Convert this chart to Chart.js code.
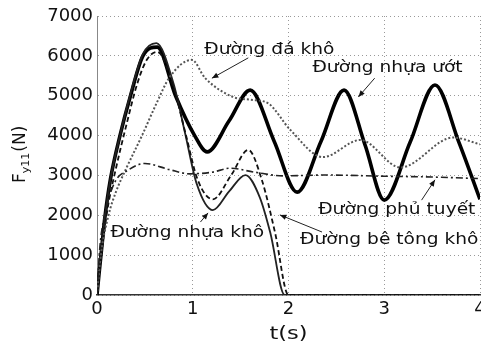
<!DOCTYPE html>
<html>
<head>
<meta charset="utf-8">
<script src="https://cdn.jsdelivr.net/npm/chart.js"></script>
<style>
  html, body { margin: 0; padding: 0; background: #fff; }
  #forceChart { display: block; }
</style>
</head>
<body>
<canvas id="forceChart" width="481" height="343"></canvas>
<script>
// time (s) and force (N)
const tWet = [0, 0.02, 0.05, 0.08, 0.14, 0.24, 0.35, 0.48, 0.63, 0.82, 1.02, 1.15, 1.38, 1.6, 1.85, 2.09, 2.34, 2.58, 2.8, 3.0, 3.27, 3.53, 3.78, 4.0];
const fWet = [0, 500, 1200, 1900, 2900, 4000, 5000, 6000, 6220, 5000, 4000, 3590, 4370, 5140, 3860, 2580, 3860, 5140, 3760, 2380, 3830, 5270, 3830, 2400];

const tDry = [0, 0.02, 0.05, 0.08, 0.14, 0.24, 0.35, 0.48, 0.62, 0.8, 0.92, 1.04, 1.21, 1.38, 1.55, 1.7, 1.81, 1.96, 4.0];
const fDry = [0, 500, 1200, 1900, 2900, 4000, 5050, 6050, 6320, 5300, 4060, 2800, 2130, 2600, 3010, 2450, 1560, 0, 0];

const tConcrete = [0, 0.03, 0.07, 0.12, 0.2, 0.3, 0.42, 0.52, 0.63, 0.8, 0.93, 1.05, 1.21, 1.4, 1.58, 1.72, 1.86, 2.0, 4.0];
const fConcrete = [0, 700, 1500, 2300, 3200, 4200, 5300, 5900, 6100, 5200, 4000, 2900, 2400, 3000, 3640, 2900, 1560, 0, 0];

const tStone = [0, 0.04, 0.12, 0.2, 0.31, 0.47, 0.62, 0.76, 0.99, 1.13, 1.42, 1.6, 1.78, 2.02, 2.36, 2.75, 3.17, 3.72, 4.0];
const fStone = [0, 1000, 2000, 2600, 3200, 4000, 4800, 5470, 5900, 5440, 4970, 4900, 4820, 4140, 3460, 3890, 3200, 3950, 3780];

const tSnow = [0, 0.03, 0.08, 0.18, 0.33, 0.5, 0.75, 0.97, 1.2, 1.39, 1.65, 1.94, 2.4, 3.0, 3.5, 4.0];
const fSnow = [0, 1200, 2000, 2800, 3140, 3300, 3150, 3040, 3080, 3180, 3080, 2990, 3010, 2980, 2960, 2920];

// curve labels: text anchor and arrow (tail -> head), all in data units
const labelText = ['Đường đá khô', 'Đường nhựa ướt', 'Đường phủ tuyết', 'Đường bê tông khô', 'Đường nhựa khô'];
const labelT = [1.12, 2.25, 2.31, 2.12, 0.14];
const labelF = [6150, 5700, 2130, 1380, 1560];
const arrowFrom = [[1.58, 5950], [2.90, 5440], [3.39, 2380], [2.35, 1580], [1.08, 1830]];
const arrowTo = [[1.20, 5440], [2.73, 4970], [3.53, 2890], [1.91, 2010], [1.16, 2060]];

const pts = (t, f) => t.map((v, i) => ({ x: v, y: f[i] }));

const FONT = '"DejaVu Sans", sans-serif';

const annotations = {
  id: 'annotations',
  afterDatasetsDraw(chart) {
    const { ctx, scales: { x, y } } = chart;
    ctx.save();
    ctx.fillStyle = '#111';
    ctx.strokeStyle = '#222';
    ctx.lineWidth = 1;
    ctx.font = '15px ' + FONT;
    ctx.textBaseline = 'middle';
    labelText.forEach((txt, i) => {
      ctx.save();
      ctx.translate(x.getPixelForValue(labelT[i]), y.getPixelForValue(labelF[i]));
      ctx.scale(1.24, 1);
      ctx.fillText(txt, 0, 0);
      ctx.restore();

      const x1 = x.getPixelForValue(arrowFrom[i][0]), y1 = y.getPixelForValue(arrowFrom[i][1]);
      const x2 = x.getPixelForValue(arrowTo[i][0]), y2 = y.getPixelForValue(arrowTo[i][1]);
      ctx.beginPath();
      ctx.moveTo(x1, y1);
      ctx.lineTo(x2, y2);
      ctx.stroke();
      const a = Math.atan2(y2 - y1, x2 - x1);
      ctx.beginPath();
      ctx.moveTo(x2, y2);
      ctx.lineTo(x2 - 7 * Math.cos(a - 0.4), y2 - 7 * Math.sin(a - 0.4));
      ctx.lineTo(x2 - 7 * Math.cos(a + 0.4), y2 - 7 * Math.sin(a + 0.4));
      ctx.closePath();
      ctx.fill();
    });

    // axis titles
    ctx.textBaseline = 'alphabetic';
    ctx.save();
    ctx.translate(25, 183);
    ctx.rotate(-Math.PI / 2);
    ctx.font = '17px ' + FONT;
    ctx.fillText('F', 0, 0);
    let w = ctx.measureText('F').width;
    ctx.font = '11px ' + FONT;
    ctx.fillText('y11', w, 4);
    w += ctx.measureText('y11').width + 1;
    ctx.font = '17px ' + FONT;
    ctx.fillText('(N)', w, 0);
    ctx.restore();

    ctx.save();
    ctx.font = '18px ' + FONT;
    ctx.textAlign = 'center';
    ctx.translate(x.getPixelForValue(2), 339);
    ctx.scale(1.25, 1);
    ctx.fillText('t(s)', 0, 0);
    ctx.restore();
    ctx.restore();
  }
};

new Chart(document.getElementById('forceChart'), {
  type: 'line',
  data: {
    datasets: [
      { label: 'Đường phủ tuyết', data: pts(tSnow, fSnow), borderColor: '#222', borderWidth: 1.6, borderDash: [7, 3, 2, 3] },
      { label: 'Đường đá khô', data: pts(tStone, fStone), borderColor: '#555', borderWidth: 2, borderDash: [2, 2] },
      { label: 'Đường bê tông khô', data: pts(tConcrete, fConcrete), borderColor: '#111', borderWidth: 1.8, borderDash: [5, 3] },
      { label: 'Đường nhựa khô', data: pts(tDry, fDry), borderColor: '#222', borderWidth: 1.8 },
      { label: 'Đường nhựa ướt', data: pts(tWet, fWet), borderColor: '#000', borderWidth: 3.6 }
    ]
  },
  options: {
    responsive: false,
    animation: false,
    devicePixelRatio: 1,
    elements: { point: { radius: 0 }, line: { cubicInterpolationMode: 'monotone' } },
    layout: { padding: { top: 16, right: 1, left: 0, bottom: 0 } },
    plugins: { legend: { display: false }, tooltip: { enabled: false } },
    scales: {
      x: {
        type: 'linear', min: 0, max: 4,
        ticks: { stepSize: 1, color: '#111', font: { family: FONT, size: 18 }, padding: 4, maxRotation: 0, callback: v => String(v) },
        grid: { display: true, color: '#999', lineWidth: 1, drawTicks: false },
        border: { display: true, color: '#333', width: 1.5, dash: [1, 3] },
        afterFit(s) { s.height = 48; s.paddingLeft = 0; s.paddingRight = 0; }
      },
      y: {
        min: 0, max: 7000,
        ticks: { stepSize: 1000, color: '#111', font: { family: FONT, size: 18 }, padding: 4, callback: v => String(v) },
        grid: { display: true, color: '#999', lineWidth: 1, drawTicks: false },
        border: { display: true, color: '#888', width: 1, dash: [1, 3] },
        afterFit(s) { s.width = 97; s.paddingTop = 0; s.paddingBottom = 0; }
      }
    }
  },
  plugins: [annotations]
});
</script>
</body>
</html>
